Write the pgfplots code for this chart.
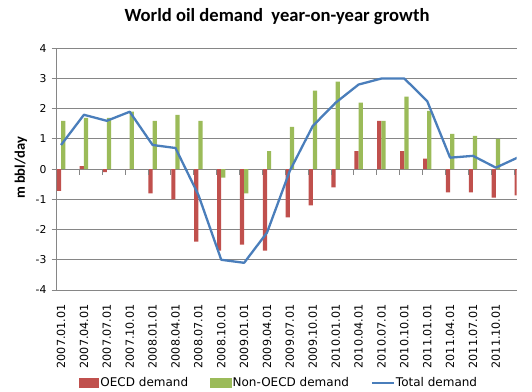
\documentclass[border=0pt]{standalone}
\usepackage{fontspec}
\setmainfont{DejaVu Sans}
\newfontfamily\carlito{Carlito}
\usepackage{pgfplots}
\pgfplotsset{compat=1.18}
\definecolor{oecd}{HTML}{C0504D}
\definecolor{nonoecd}{HTML}{9BBB59}
\definecolor{total}{HTML}{4A7EBB}
\definecolor{gridc}{HTML}{868686}
\begin{document}
\begin{tikzpicture}
\useasboundingbox (0,0) rectangle (532pt,391pt);
\begin{axis}[
  at={(56.7pt,101pt)}, anchor=south west,
  scale only axis, width=460pt, height=241.7pt,
  xmin=-0.19, xmax=19.91, ymin=-4, ymax=4,
  axis y line*=left, axis x line*=bottom,
  x axis line style={draw=none},
  y axis line style={draw=gridc, line width=1pt},
  ytick={-4,...,4},
  ymajorgrids, grid style={draw=gridc, line width=1pt},
  tick align=outside,
  major tick length=5pt,
  ytick style={draw=gridc, line width=1pt},
  xtick={0,...,20},
  x tick style={draw=none},
  xticklabels={2007.01.01,2007.04.01,2007.07.01,2007.10.01,2008.01.01,2008.04.01,2008.07.01,2008.10.01,2009.01.01,2009.04.01,2009.07.01,2009.10.01,2010.01.01,2010.04.01,2010.07.01,2010.10.01,2011.01.01,2011.04.01,2011.07.01,2011.10.01,2012.01.01},
  xticklabel style={rotate=90, anchor=east, inner sep=0pt, font=\fontsize{11.2}{12}\selectfont, xshift=-9pt},
  yticklabel style={anchor=east, inner sep=0pt, font=\fontsize{10.8}{12}\selectfont, xshift=-5pt},
  /pgf/number format/assume math mode=true,
  clip=true,
  legend style={at={(0.482,-0.385)}, anchor=center, draw=none, fill=none,
    legend columns=3, font=\fontsize{12}{14}\selectfont,
    inner sep=0pt, nodes={inner sep=1pt},
    /tikz/every even column/.append style={column sep=21pt}},
  legend cell align=left,
]
\addplot[ybar, bar width=0.184, bar shift=-0.092, fill=oecd, draw=none,
  legend image code/.code={\fill[oecd] (0pt,-4.7pt) rectangle (20.7pt,4.7pt);}]
  coordinates {(0,-0.72) (1,0.1) (2,-0.1) (3,0) (4,-0.8) (5,-1.0) (6,-2.4) (7,-2.7) (8,-2.5) (9,-2.7) (10,-1.6) (11,-1.2) (12,-0.6) (13,0.6) (14,1.6) (15,0.6) (16,0.35) (17,-0.77) (18,-0.77) (19,-0.94) (20,-0.87)};
\addlegendentry{OECD demand}
\addplot[ybar, bar width=0.184, bar shift=0.092, fill=nonoecd, draw=none,
  legend image code/.code={\fill[nonoecd] (0pt,-4.7pt) rectangle (21.5pt,4.7pt);}]
  coordinates {(0,1.6) (1,1.7) (2,1.7) (3,1.9) (4,1.6) (5,1.8) (6,1.6) (7,-0.28) (8,-0.8) (9,0.6) (10,1.4) (11,2.6) (12,2.9) (13,2.2) (14,1.6) (15,2.4) (16,1.93) (17,1.17) (18,1.1) (19,1.0) (20,1.3)};
\addlegendentry{Non-OECD demand}
\addplot[sharp plot, draw=total, line width=2.3pt, line join=round, mark=none,
  legend image code/.code={\draw[total, line width=2pt] (0pt,0pt) -- (22pt,0pt);}]
  coordinates {(0,0.8) (1,1.8) (2,1.6) (3,1.9) (4,0.8) (5,0.7) (6,-0.85) (7,-3.0) (8,-3.1) (9,-2.1) (10,-0.05) (11,1.43) (12,2.2) (13,2.8) (14,3.0) (15,3.0) (16,2.25) (17,0.38) (18,0.44) (19,0.05) (20,0.4)};
\addlegendentry{Total demand}
\pgfplotsinvokeforeach{0,...,19}{
  \draw[gridc, line width=1pt] (axis cs:#1+0.8,0) -- ([yshift=-5.5pt]axis cs:#1+0.8,0);
}
\end{axis}
\fill[white] (517.5pt,0pt) rectangle (532pt,391pt);
\node[anchor=base, font=\carlito\bfseries\fontsize{18.6}{20}\selectfont] at (277pt,369.7pt) {World oil demand\ \ year-on-year growth};
\node[rotate=90, font=\carlito\bfseries\fontsize{14.5}{16}\selectfont] at (21pt,223pt) {m bbl/day};
\end{tikzpicture}
\end{document}
